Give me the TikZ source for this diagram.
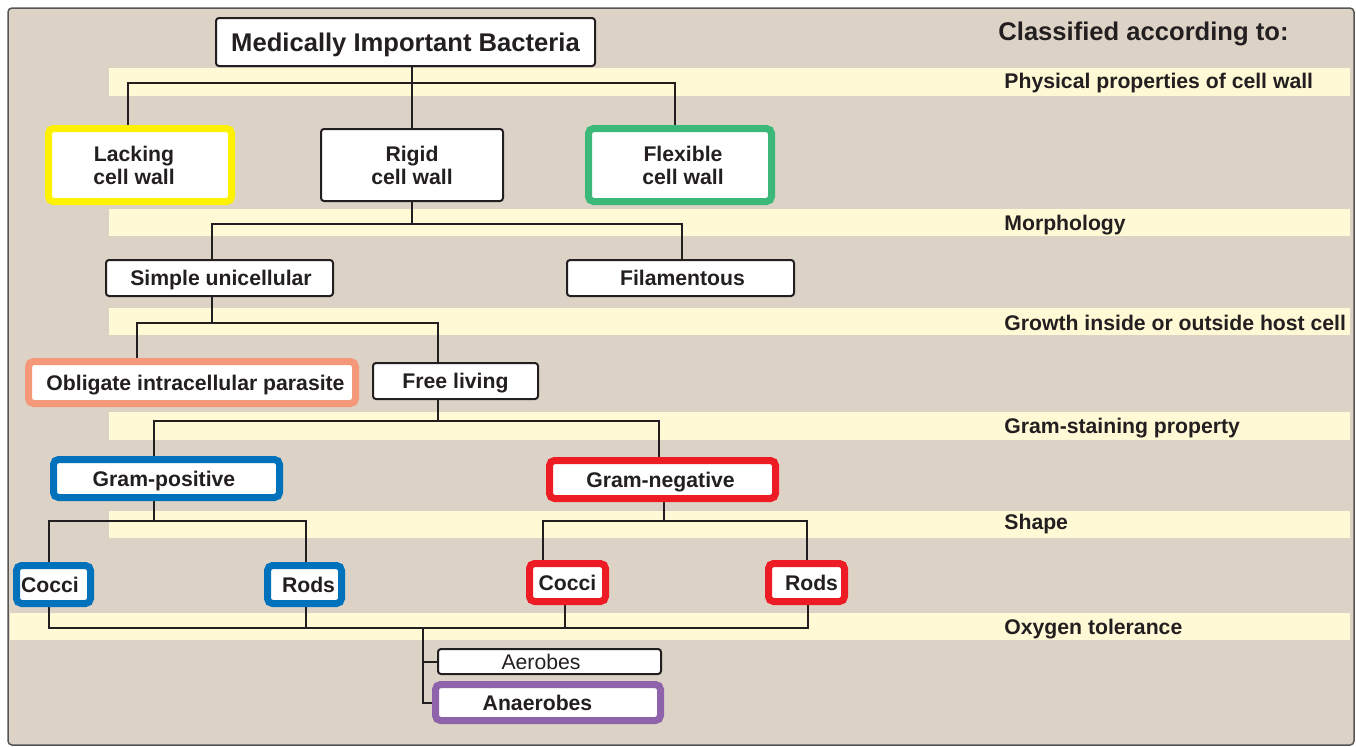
\documentclass[tikz,border=0pt]{standalone}
\usepackage{fontspec}
\setmainfont{Liberation Sans}
\usetikzlibrary{backgrounds}
\definecolor{bgc}{HTML}{DCD3C6}
\definecolor{bandc}{HTML}{FFF9D6}
\definecolor{frc}{HTML}{555555}
\definecolor{lnc}{HTML}{231F20}
\definecolor{cyel}{HTML}{FFF200}
\definecolor{cgrn}{HTML}{3CB878}
\definecolor{csal}{HTML}{F5987A}
\definecolor{cblu}{HTML}{0072BC}
\definecolor{cred}{HTML}{ED1C24}
\definecolor{cpur}{HTML}{8F63AB}
\newcommand{\Rs}[1]{\hspace*{#1pt}}
\begin{document}
\begin{tikzpicture}[x=0.5pt,y=-0.5pt,
  box/.style={draw=lnc, line width=1pt, fill=white, rounded corners=1.5pt, inner sep=0pt,
    text=lnc, font=\fontsize{10.6}{11.5}\selectfont\bfseries, align=center},
  cbox/.style={box, line width=3.5pt, rounded corners=2.5pt, draw=#1},
  one/.style={text height=7.6pt, text depth=0pt},
  lab/.style={anchor=west, inner sep=0pt, text=lnc, font=\fontsize{10.6}{12}\selectfont\bfseries,
    text height=7.6pt, text depth=0pt},
  band/.style={fill=bandc},
  conn/.style={draw=lnc, line width=1pt}
]
\useasboundingbox (0,0) rectangle (1356,746);

% nodes
\node[box,one,minimum width=189.5pt,minimum height=24pt,font=\fontsize{12.8}{14}\selectfont\bfseries,text height=9.2pt] (top) at (405.5,42) {Medically Important Bacteria};
\node[cbox=cyel,minimum width=91.5pt,minimum height=36.5pt] (lack) at (140,165) {Lacking\Rs{6}\\cell wall\Rs{6}};
\node[box,minimum width=91pt,minimum height=36pt] (rigid) at (412,165) {Rigid\\cell wall};
\node[cbox=cgrn,minimum width=91.5pt,minimum height=36.5pt] (flex) at (680,165) {\Rs{3}Flexible\\\Rs{3}cell wall};
\node[box,one,minimum width=113.5pt,minimum height=18pt] (simple) at (219.5,278) {\Rs{1.5}Simple unicellular};
\node[box,one,minimum width=113.5pt,minimum height=18pt] (fil) at (680.5,278) {\Rs{2}Filamentous};
\node[cbox=csal,one,minimum width=163.5pt,minimum height=21pt] (obl) at (192,382.5) {\Rs{3.5}Obligate intracellular parasite};
\node[box,one,minimum width=82.5pt,minimum height=18pt] (free) at (455.5,381) {Free living};
\node[cbox=cblu,one,minimum width=113pt,minimum height=19pt] (gpos) at (166.5,478.5) {Gram-positive\Rs{2.5}};
\node[cbox=cred,one,minimum width=113pt,minimum height=19pt] (gneg) at (662.5,479.5) {Gram-negative\Rs{2}};
\node[cbox=cblu,one,minimum width=37pt,minimum height=19pt] (c1) at (53.5,584.5) {Cocci\Rs{3.5}};
\node[cbox=cblu,one,minimum width=37pt,minimum height=19pt] (r1) at (304.5,584.5) {\Rs{4}Rods};
\node[cbox=cred,one,minimum width=38pt,minimum height=19pt] (c2) at (567.5,582.5) {Cocci};
\node[cbox=cred,one,minimum width=38pt,minimum height=19pt] (r2) at (806.5,582.5) {\Rs{5}Rods};
\node[box,one,minimum width=111.5pt,minimum height=12.5pt,font=\fontsize{10.6}{11.5}\selectfont] (aer) at (549.5,661.5) {Aerobes\Rs{8.5}};
\node[cbox=cpur,one,minimum width=112.5pt,minimum height=18pt] (ana) at (548,702.5) {Anaerobes\Rs{10.5}};

% labels
\node[lab,font=\fontsize{12.8}{14}\selectfont\bfseries,text height=9.2pt] (cls) at (998,31) {Classified according to:};
\node[lab] (l1) at (1004,81) {Physical properties of cell wall};
\node[lab] (l2) at (1004,222.5) {Morphology};
\node[lab] (l3) at (1004,322.5) {Growth inside or outside host cell};
\node[lab] (l4) at (1004,425.5) {Gram-staining property};
\node[lab] (l5) at (1004,521.5) {Shape};
\node[lab] (l6) at (1004,626.5) {Oxygen tolerance};

% junction coordinates
\coordinate (h1a) at (128,83);  \coordinate (h1b) at (675,83);
\coordinate (h2a) at (212,224); \coordinate (h2b) at (682,224);
\coordinate (h3a) at (137,323); \coordinate (h3b) at (438,323); \coordinate (v3) at (212,323);
\coordinate (h4a) at (154,421); \coordinate (h4b) at (659,421);
\coordinate (h5a) at (49,521);  \coordinate (h5b) at (306,521);
\coordinate (h5c) at (543,521); \coordinate (h5d) at (807,521); \coordinate (v5) at (664,521);
\coordinate (h6a) at (49,628);  \coordinate (h6b) at (808,628); \coordinate (h6c) at (565,628);
\coordinate (v6) at (423,628);

\begin{pgfonlayer}{background}
\draw[fill=bgc,draw=frc,line width=0.75pt,rounded corners=2pt] (8,8) rectangle (1354,745);
\fill[band] (109,68) rectangle (1350,96);
\fill[band] (109,209) rectangle (1350,236);
\fill[band] (109,308) rectangle (1350,335);
\fill[band] (109,412) rectangle (1350,440);
\fill[band] (109,511) rectangle (1350,538);
\fill[band] (10,613) rectangle (1350,640);

\draw[conn] (top.south -| rigid.north) -- (rigid.north);
\draw[conn] (lack.north -| h1a) -- (h1a) -- (h1b) -- (flex.north -| h1b);
\draw[conn] (rigid.south) -- (rigid.south |- h2a);
\draw[conn] (simple.north -| h2a) -- (h2a) -- (h2b) -- (fil.north -| h2b);
\draw[conn] (simple.south -| v3) -- (v3);
\draw[conn] (obl.north -| h3a) -- (h3a) -- (h3b) -- (free.north -| h3b);
\draw[conn] (free.south -| h3b) -- (h3b |- h4a);
\draw[conn] (gpos.north -| h4a) -- (h4a) -- (h4b) -- (gneg.north -| h4b);
\draw[conn] (gpos.south -| h4a) -- (h4a |- h5a);
\draw[conn] (c1.north -| h5a) -- (h5a) -- (h5b) -- (r1.north -| h5b);
\draw[conn] (gneg.south -| v5) -- (v5);
\draw[conn] (c2.north -| h5c) -- (h5c) -- (h5d) -- (r2.north -| h5d);
\draw[conn] (c1.south -| h6a) -- (h6a) -- (h6b) -- (r2.south -| h6b);
\draw[conn] (r1.south -| h5b) -- (h5b |- h6a);
\draw[conn] (c2.south -| h6c) -- (h6c);
\draw[conn] (v6) -- (v6 |- ana.west) -- (ana.west);
\draw[conn] (v6 |- aer.west) -- (aer.west);
\end{pgfonlayer}
\end{tikzpicture}
\end{document}
